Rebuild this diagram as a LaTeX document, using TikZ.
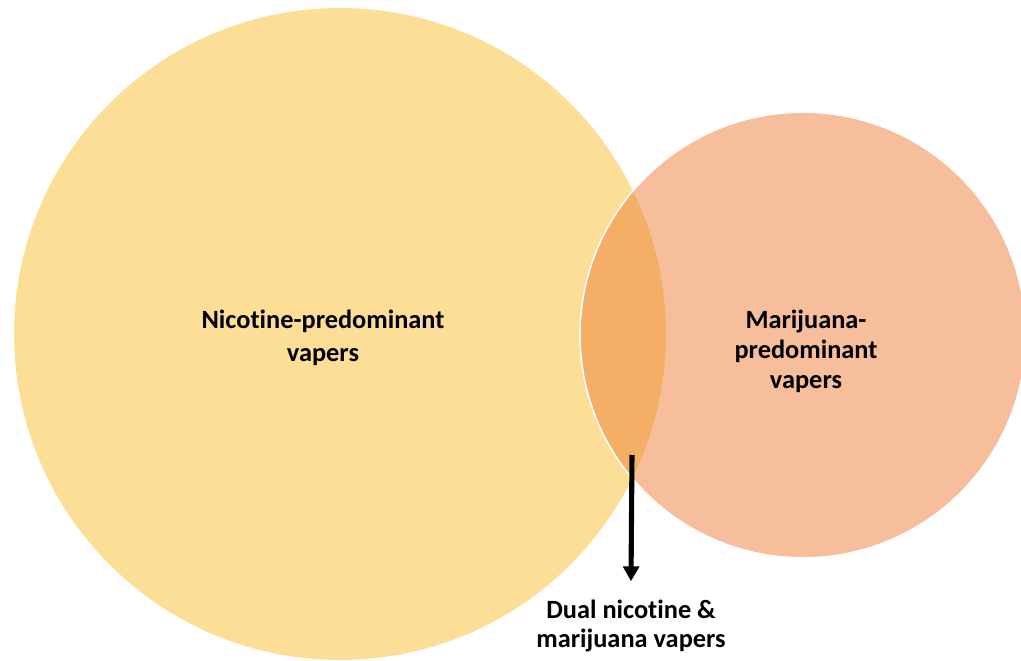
\documentclass[tikz,border=0pt]{standalone}
\usepackage{fontspec}
\setmainfont{Carlito}[Ligatures=NoCommon]
\usepackage{tikz}
\usetikzlibrary{calc, positioning, arrows.meta}

\begin{document}
\begin{tikzpicture}[
        x=0.02cm, y=-0.02cm,
        set_nicotine/.style={circle, minimum size=13.04cm, inner sep=0pt, fill=nicotineYellow},
        set_marijuana/.style={circle, minimum size=8.92cm, inner sep=0pt, fill=marijuanaSalmon, draw=white, line width=0.8pt},
        label_set/.style={font=\fontsize{15}{17}\selectfont\bfseries, align=center, inner sep=0pt},
        arrow/.style={-{Triangle[length=8.5pt, width=9pt]}, line width=2.9pt, black}
    ]
    \definecolor{nicotineYellow}{HTML}{FCDE96}
    \definecolor{marijuanaSalmon}{HTML}{F7BE9B}
    \definecolor{dualOrange}{HTML}{F4AE65}

    \useasboundingbox (0, 0) rectangle (1021, 660);

    % ==================== Sets ====================
    \node[set_nicotine] (nicotine) at (340, 334) {};
    \node[set_marijuana] (marijuana) at (803, 335) {};

    % Overlap
    \begin{scope}
        \clip (nicotine.center) circle [radius=6.52cm];
        \fill[dualOrange] (marijuana.center) circle [radius=4.46cm];
    \end{scope}
    \draw[white, line width=0.8pt] (marijuana.center) circle [radius=4.46cm];

    % ==================== Labels ====================
    \node[label_set] (nicotine_label) at (323, 338) {Nicotine-predominant\\[1.5pt]vapers};
    \node[label_set] (marijuana_label) at (806, 351) {Marijuana-\\predominant\\vapers};
    \node[label_set] (dual_label) at (631, 626) {Dual nicotine \&\\marijuana vapers};

    % Pointer to the overlap
    \coordinate (dual_point) at (632, 455);
    \draw[arrow] (dual_point) -- ([yshift=0.36cm]dual_label.north);

\end{tikzpicture}
\end{document}
